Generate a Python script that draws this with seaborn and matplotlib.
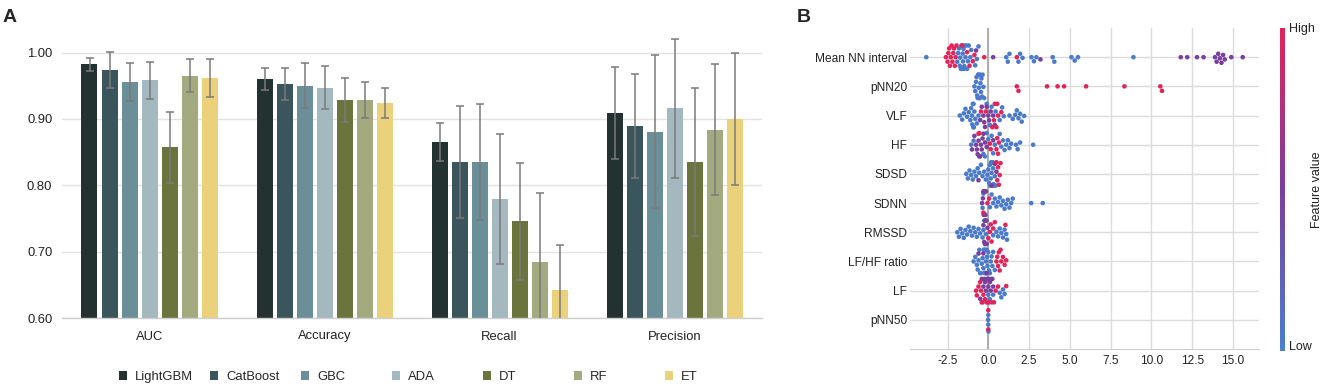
import numpy as np
import pandas as pd
import matplotlib
matplotlib.use("Agg")
import matplotlib.pyplot as plt
import seaborn as sns
from matplotlib.colors import LinearSegmentedColormap
from matplotlib.patches import Patch
from matplotlib.cm import ScalarMappable
import warnings
warnings.filterwarnings("ignore")

# ---------------- data: panel A ----------------
metrics = ["AUC", "Accuracy", "Recall", "Precision"]
models = ["LightGBM", "CatBoost", "GBC", "ADA", "DT", "RF", "ET"]
model_colors = ["#233230", "#3B555D", "#6A8F98", "#A3B8BF", "#6B743D", "#A3AA80", "#ECD17C"]

auc_mean = [0.982, 0.974, 0.956, 0.958, 0.857, 0.965, 0.962]
auc_err = [0.010, 0.027, 0.029, 0.028, 0.054, 0.025, 0.029]
acc_mean = [0.960, 0.952, 0.950, 0.947, 0.929, 0.929, 0.924]
acc_err = [0.016, 0.024, 0.034, 0.032, 0.033, 0.027, 0.023]
rec_mean = [0.865, 0.835, 0.835, 0.779, 0.746, 0.684, 0.642]
rec_err = [0.029, 0.084, 0.088, 0.098, 0.088, 0.104, 0.068]
pre_mean = [0.909, 0.889, 0.881, 0.916, 0.835, 0.884, 0.900]
pre_err = [0.069, 0.078, 0.115, 0.105, 0.111, 0.099, 0.100]

y_ticks_a = [0.60, 0.70, 0.80, 0.90, 1.00]

# ---------------- data: panel B (SHAP values by feature-value level) ----------------
features = ["Mean NN interval", "pNN20", "VLF", "HF", "SDSD", "SDNN", "RMSSD",
            "LF/HF ratio", "LF", "pNN50"]

mean_nn_low = [-3.8, -1.9, -1.85, -1.8, -1.75, -1.72, -1.68, -1.65, -1.62, -1.6, -1.57,
               -1.55, -1.52, -1.5, -1.47, -1.45, -1.4, -1.35, -1.3, -1.25, -1.2, -1.1,
               -1.05, -0.8, -0.7, -0.6, 1.1, 1.2, 1.3, 1.85, 1.95, 2.1, 2.65, 2.8, 2.95,
               3.95, 4.05, 5.1, 5.3, 5.5, 8.9]
mean_nn_mid = [-0.75, 0.3, 3.2, 11.8, 12.2, 12.8, 13.2, 13.9, 14.0, 14.1, 14.2, 14.3,
               14.4, 14.5, 14.9, 15.6]
mean_nn_high = [-2.6, -2.5, -2.45, -2.4, -2.35, -2.3, -2.25, -2.2, -2.15, -2.1, -2.05,
                -2.0, -1.95, -1.6, -1.3, -1.15, -0.95, -0.85, -0.25, 1.75]

pnn20_low = [-0.85, -0.8, -0.75, -0.72, -0.68, -0.65, -0.62, -0.6, -0.58, -0.55, -0.52,
             -0.5, -0.48, -0.45, -0.42, -0.38, -0.35, -0.3, -0.25]
pnn20_mid = []
pnn20_high = [1.75, 1.85, 3.6, 4.25, 4.65, 6.0, 8.35, 10.55, 10.65]

vlf_low = [-1.75, -1.6, -1.5, -1.4, -1.3, -1.2, -1.1, -1.05, -1.0, -0.98, -0.95, -0.92,
           -0.9, -0.88, -0.85, -0.8, -0.7, -0.6, -0.1, 0.1, 0.2, 0.45, 0.7, 0.85, 0.95,
           1.3, 1.5, 1.65, 1.75, 1.85, 1.95, 2.05, 2.2]
vlf_mid = [-0.5, -0.4, -0.3, -0.25, -0.2, -0.1, 0.0, 0.05, 0.15, 0.3, 0.4]
vlf_high = [-0.45, -0.15, 0.25, 0.35, 0.4, 0.5, 0.55, 0.6, 0.8]

hf_low = [-1.05, -0.9, -0.3, -0.2, -0.1, 0.0, 0.2, 0.3, 0.4, 0.7, 0.8, 0.9, 1.0, 1.1,
          1.2, 1.3, 1.4, 1.7, 1.8, 1.95, 2.75]
hf_mid = [-1.0, -0.85, -0.75, -0.7, -0.65, -0.6, -0.55, -0.5, -0.45, -0.4, -0.35, -0.3,
          -0.2, -0.1, 0.3]
hf_high = [-0.6, -0.55, 0.1, 0.15, 0.5, 0.55, 0.6, 0.65]

sdsd_low = [-1.35, -1.25, -1.15, -1.05, -0.95, -0.85, -0.75, -0.65, -0.55, -0.45, -0.35,
            -0.25, -0.15, -0.05, 0.0, 0.05, 0.1, 0.12, 0.15, 0.18, 0.2, 0.22, 0.25,
            0.28, 0.3, 0.32, 0.35, 0.4, 0.45]
sdsd_mid = [-0.6, 0.2, 0.4, 0.5]
sdsd_high = [0.5, 0.55, 0.6, 0.65, 0.7, 0.75]

sdnn_low = [-0.35, -0.3, -0.25, -0.2, 0.1, 0.2, 0.3, 0.4, 0.5, 0.6, 0.7, 0.8, 0.9, 1.0,
            1.1, 1.2, 1.3, 1.4, 1.5, 2.63, 3.34]
sdnn_mid = [-0.38, -0.33, -0.3, -0.28, -0.25, -0.22, -0.2, -0.18, -0.15]
sdnn_high = [-0.3, -0.05, 0.05]

rmssd_low = [-1.9, -1.8, -1.7, -1.6, -1.5, -1.4, -1.3, -1.2, -1.1, -1.0, -0.9, -0.8,
             -0.7, -0.6, -0.5, -0.35, -0.3, -0.25, -0.2, -0.15, -0.1, 0.3, 0.5, 0.6,
             0.7, 0.8, 0.9, 1.0, 1.1, 1.15]
rmssd_mid = [-0.3, -0.25, -0.2, -0.15, -0.1, -0.05, -0.2]
rmssd_high = [0.0, 0.1, 0.15, 0.2, 0.3, 0.4, 1.05]

lfhf_low = [-0.9, -0.8, -0.7, -0.65, -0.6, -0.55, -0.5, -0.45, -0.4, -0.35, -0.3, -0.28,
            -0.25, -0.22, -0.2, -0.18, -0.15, -0.12, -0.1, -0.08, -0.05, 0.0, 0.05, 0.1,
            0.15, 0.2, 0.25, 0.3, 0.4]
lfhf_mid = [-0.6, -0.3, -0.1]
lfhf_high = [0.5, 0.55, 0.6, 0.65, 0.7, 0.75, 0.8, 0.9, 1.0, 1.1]

lf_low = [-0.05, 0.0, 0.0, 0.1, 0.3, 0.7, 0.8, 0.9, 1.0]
lf_mid = [-0.5, -0.4, -0.35, -0.3, -0.25, -0.2, -0.15, -0.1, -0.05, 0.0, 0.05, 0.1,
          0.15, 0.2, 0.25, 0.3]
lf_high = [-0.75, -0.7, -0.6, -0.5, -0.45, -0.4, -0.3, -0.2, -0.1, 0.05, 0.2, 0.35,
           0.45, 0.6, 1.1]

pnn50_low = [-0.01, 0.0, 0.0, 0.01]
pnn50_mid = []
pnn50_high = [0.0, 0.0]

x_ticks_b = [-2.5, 0.0, 2.5, 5.0, 7.5, 10.0, 12.5, 15.0]
levels = ["low", "mid", "high"]
level_colors = {"low": "#4A7BCB", "mid": "#7A3E9F", "high": "#E1245A"}

# ---------------- build tables ----------------
means = [auc_mean, acc_mean, rec_mean, pre_mean]
errs = [auc_err, acc_err, rec_err, pre_err]
rows = []
for mi, m in enumerate(metrics):
    for j, mod in enumerate(models):
        rows.append({"metric": m, "model": mod, "value": means[mi][j], "err": errs[mi][j]})
df_a = pd.DataFrame(rows)

shap_groups = [
    (mean_nn_low, mean_nn_mid, mean_nn_high), (pnn20_low, pnn20_mid, pnn20_high),
    (vlf_low, vlf_mid, vlf_high), (hf_low, hf_mid, hf_high),
    (sdsd_low, sdsd_mid, sdsd_high), (sdnn_low, sdnn_mid, sdnn_high),
    (rmssd_low, rmssd_mid, rmssd_high), (lfhf_low, lfhf_mid, lfhf_high),
    (lf_low, lf_mid, lf_high), (pnn50_low, pnn50_mid, pnn50_high),
]
rows = []
for feat, grp in zip(features, shap_groups):
    for lev, vals in zip(levels, grp):
        for v in vals:
            rows.append({"feature": feat, "shap": v, "level": lev})
df_b = pd.DataFrame(rows)

# ---------------- style ----------------
sns.set_style("white")
FONT = ["Liberation Sans", "DejaVu Sans"]
plt.rcParams["font.family"] = FONT
plt.rcParams["font.sans-serif"] = ["Liberation Sans", "DejaVu Sans"]

W, H = 1325, 387
fig = plt.figure(figsize=(W / 100, H / 100), dpi=100)

def fx(px):
    return px / W

def fy(py):
    return 1 - py / H

# ---------------- panel A ----------------
axA = fig.add_axes([fx(62), fy(318), fx(762) - fx(62), fy(26) - fy(318)])
sns.barplot(data=df_a, x="metric", y="value", hue="model", order=metrics,
            hue_order=models, palette=model_colors, errorbar=None, width=0.8,
            gap=0.2, linewidth=0, saturation=1, legend=False, ax=axA)
n = len(models)
for mi in range(len(metrics)):
    for j in range(n):
        xpos = mi - 0.4 + (j + 0.5) * 0.8 / n
        axA.errorbar(xpos, means[mi][j], yerr=errs[mi][j], fmt="none",
                     ecolor="#7a7a7a", elinewidth=1.1, capsize=3, capthick=1.1, zorder=5)
axA.set_ylim(0.6, 1.04)
axA.set_xlim(-0.5, len(metrics) - 0.5)
axA.set_yticks(y_ticks_a)
axA.set_yticklabels([f"{t:.2f}" for t in y_ticks_a], fontfamily=FONT)
axA.set_xticks(range(len(metrics)))
axA.set_xticklabels(metrics, fontfamily=FONT)
axA.yaxis.grid(True, color="#e2e2e2", linewidth=1)
axA.set_axisbelow(True)
axA.set_xlabel("")
axA.set_ylabel("")
for s in ["left", "right", "top"]:
    axA.spines[s].set_visible(False)
axA.spines["bottom"].set_color("#cfcfcf")
axA.spines["bottom"].set_linewidth(1)
axA.tick_params(axis="both", length=0, labelsize=9.4, colors="#222222")
axA.tick_params(axis="x", pad=9)
axA.tick_params(axis="y", pad=7)

legend_x = [119, 210, 301, 392, 483, 574, 665]
for mod, col, lx in zip(models, model_colors, legend_x):
    fig.legend(handles=[Patch(facecolor=col, edgecolor="none", label=mod)],
               loc="center left", bbox_to_anchor=(fx(lx), fy(377)), frameon=False,
               borderpad=0, borderaxespad=0, handlelength=0.65, handleheight=0.65,
               handletextpad=0.6, prop={"family": FONT, "size": 9.4})

fig.text(fx(3), fy(18), "A", fontsize=14, fontweight="bold", va="center", ha="left")
fig.text(fx(797), fy(18), "B", fontsize=14, fontweight="bold", va="center", ha="left")

# ---------------- panel B ----------------
axB = fig.add_axes([fx(910), fy(349), fx(1259) - fx(910), fy(28) - fy(349)])
sns.swarmplot(data=df_b, x="shap", y="feature", hue="level", order=features,
              hue_order=levels, palette=level_colors, size=3.3, linewidth=0,
              orient="h", legend=False, ax=axB, zorder=3)
axB.set_ylim(len(features), -1)
axB.set_xlim(-4.8, 16.6)
axB.set_xticks(x_ticks_b)
axB.set_xticklabels([f"{t:.1f}" for t in x_ticks_b], fontfamily=FONT)
axB.set_yticks(range(len(features)))
axB.set_yticklabels(features, fontfamily=FONT)
axB.grid(True, color="#dcdcdc", linewidth=1)
axB.set_axisbelow(True)
axB.axvline(0, color="#a8a8a8", linewidth=1.3, zorder=1)
axB.set_xlabel("")
axB.set_ylabel("")
for s in ["left", "right", "top"]:
    axB.spines[s].set_visible(False)
axB.spines["bottom"].set_color("#cfcfcf")
axB.tick_params(axis="both", length=0, labelsize=8.6, colors="#222222")
axB.tick_params(axis="x", pad=4)
axB.tick_params(axis="y", pad=2)

cmap = LinearSegmentedColormap.from_list("fv", ["#4A7FCF", "#7A3E9F", "#E1245A"])
cax = fig.add_axes([fx(1280), fy(351), fx(5), fy(28) - fy(351)])
cb = fig.colorbar(ScalarMappable(cmap=cmap), cax=cax, ticks=[])
cb.outline.set_visible(False)
fig.text(fx(1289), fy(29), "High", fontsize=9, va="center", ha="left", color="#222222")
fig.text(fx(1289), fy(347), "Low", fontsize=9, va="center", ha="left", color="#222222")
fig.text(fx(1317), fy(190), "Feature value", fontsize=9, rotation=90, va="center",
         ha="center", color="#222222")

fig.savefig("out.png", dpi=100)
